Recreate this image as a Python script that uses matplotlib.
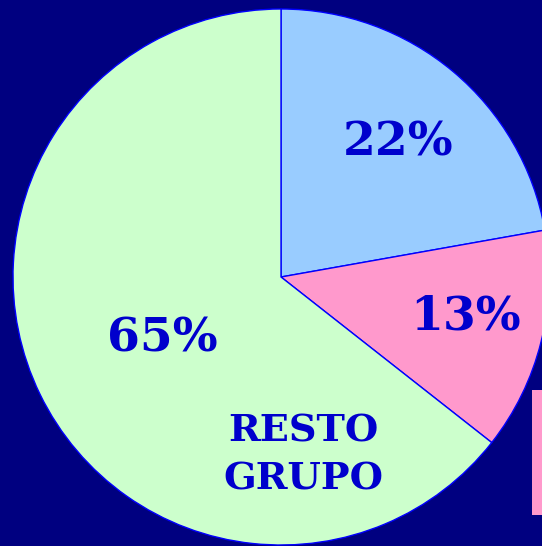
import matplotlib.pyplot as plt
from matplotlib.patches import Rectangle

labels = ['22%', '13%', '65%']
values = [22.2, 13.4, 64.4]   # slice sizes
colors = ['#99ccff', '#ff99cc', '#ccffcc']
group_label = 'RESTO\nGRUPO'

bg = '#000080'
txt = '#0000cc'

fig = plt.figure(figsize=(5.42, 5.46), dpi=100)
fig.patch.set_facecolor(bg)
ax = fig.add_axes([0, 0, 1, 1])
ax.set_facecolor(bg)

cx, cy, r = 281, 269, 268
wedges, _ = ax.pie(values, colors=colors, startangle=90, counterclock=False,
                   center=(cx, cy), radius=r, frame=True,
                   wedgeprops=dict(edgecolor='#0000ff', linewidth=1.0))
ax.set_xlim(0, 542)
ax.set_ylim(0, 546)
ax.axis('off')

font = dict(family='DejaVu Serif', weight='bold', color=txt, ha='center', va='center')
ax.text(398, 546 - 142, labels[0], fontsize=34, **font)
ax.text(465, 546 - 316, labels[1], fontsize=34, **font)
ax.text(162, 546 - 339, labels[2], fontsize=34, **font)
ax.text(303, 546 - 455, group_label, fontsize=27.5, linespacing=1.4, **font)

# legend box peeking in at the right edge
ax.add_patch(Rectangle((532, 31), 20, 125, facecolor='#ff99cc', edgecolor='none'))

fig.savefig('out.png', dpi=100, facecolor=bg)
